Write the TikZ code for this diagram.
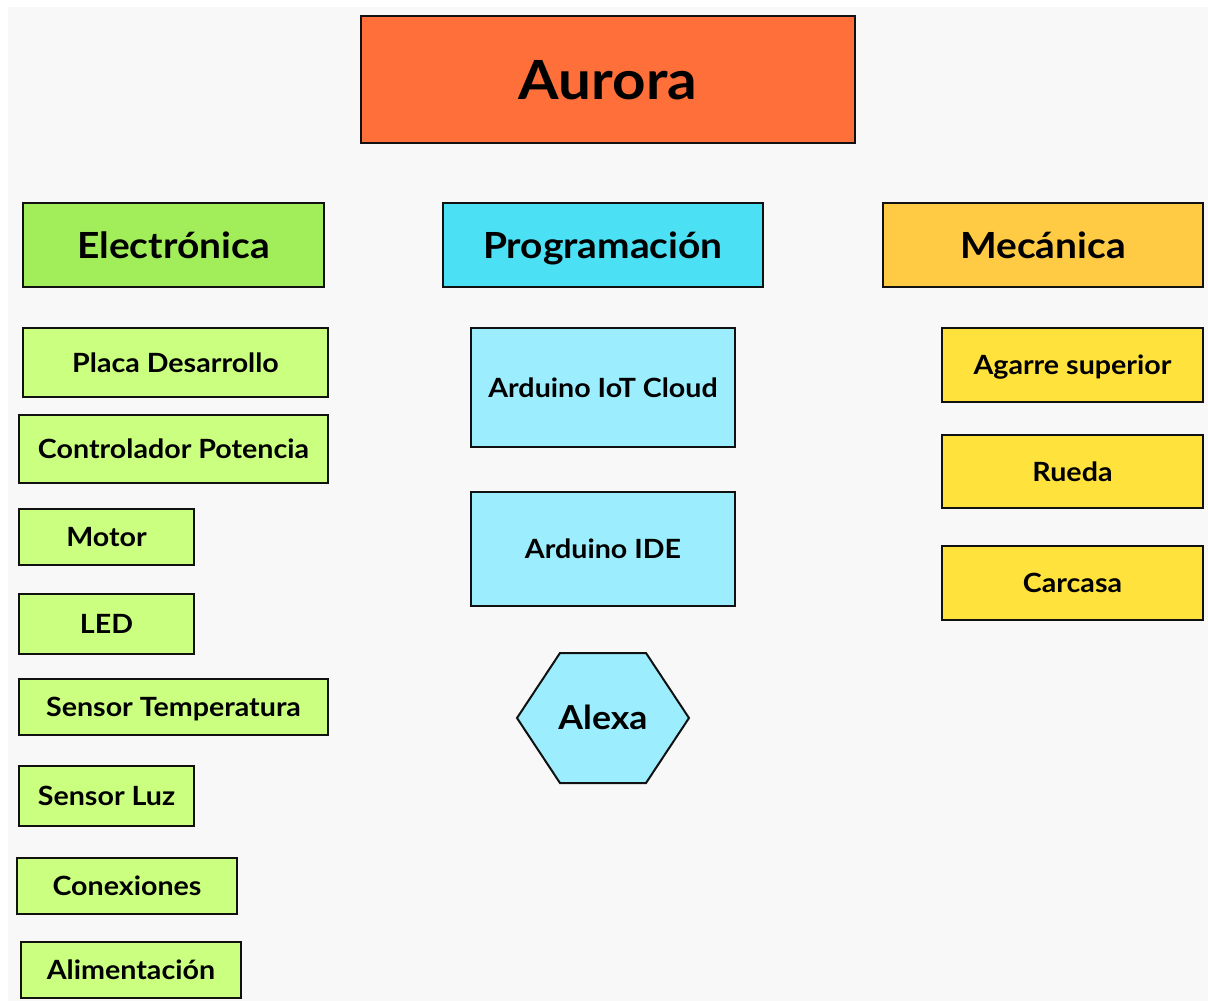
\documentclass[tikz,border=0pt]{standalone}
\usepackage{fontspec}
\setmainfont{Lato}[BoldFeatures={FakeStretch=1.08}]
\definecolor{bgc}{HTML}{F8F8F8}
\definecolor{aurorac}{HTML}{FE6F3A}
\definecolor{elecc}{HTML}{A2EE5A}
\definecolor{progc}{HTML}{4BE0F3}
\definecolor{mecc}{HTML}{FFCB45}
\definecolor{elecl}{HTML}{CBFF80}
\definecolor{progl}{HTML}{9CEEFE}
\definecolor{mecl}{HTML}{FFE23C}
\definecolor{edge}{HTML}{111111}
\tikzset{
  box/.style={draw=edge, line width=2pt, rectangle, inner sep=0pt, align=center, text depth=0pt},
  small/.style={box, text height=19pt, font=\fontsize{26.5}{30}\selectfont\bfseries},
  cat/.style={box, text height=26pt, font=\fontsize{36}{40}\selectfont\bfseries},
}
\begin{document}
\begin{tikzpicture}[x=1pt,y=-1pt]
\useasboundingbox (0,0) rectangle (1208,1001);
\fill[white] (0,0) rectangle (1208,1001);
\fill[bgc] (8,7) rectangle (1208,1001);
% title
\node[box, fill=aurorac, minimum width=494pt, minimum height=127pt, text height=39pt, font=\fontsize{54}{60}\selectfont\bfseries] (aurora) at (608,79.5) {Aurora};
% categories
\node[cat, fill=elecc, minimum width=301pt, minimum height=84pt] (elec) at (173.5,245) {Electrónica};
\node[cat, fill=progc, minimum width=320pt, minimum height=84pt] (prog) at (603,245) {Programación};
\node[cat, fill=mecc, minimum width=320pt, minimum height=84pt] (mec) at (1043,245) {Mecánica};
% electronics
\node[small, fill=elecl, minimum width=305pt, minimum height=69pt] (placa) at (175.5,362.5) {Placa Desarrollo};
\node[small, fill=elecl, minimum width=309pt, minimum height=68pt] (ctrl) at (173.5,449) {Controlador Potencia};
\node[small, fill=elecl, minimum width=175pt, minimum height=56pt] (motor) at (106.5,537) {Motor};
\node[small, fill=elecl, minimum width=175pt, minimum height=60pt] (led) at (106.5,624) {LED};
\node[small, fill=elecl, minimum width=309pt, minimum height=56pt] (stemp) at (173.5,707) {Sensor Temperatura};
\node[small, fill=elecl, minimum width=175pt, minimum height=60pt] (sluz) at (106.5,796) {Sensor Luz};
\node[small, fill=elecl, minimum width=220pt, minimum height=56pt] (conex) at (127,886) {Conexiones};
\node[small, fill=elecl, minimum width=220pt, minimum height=56pt] (alim) at (131,970) {Alimentación};
% programming
\node[small, fill=progl, minimum width=264pt, minimum height=119pt] (iot) at (603,387.5) {Arduino IoT Cloud};
\node[small, fill=progl, minimum width=264pt, minimum height=114pt] (ide) at (603,549) {Arduino IDE};
\coordinate (hexc) at (603,718);
\filldraw[fill=progl, draw=edge, line width=2pt, line join=miter] ([xshift=-86pt]hexc) -- ([xshift=-43pt,yshift=-65pt]hexc) -- ([xshift=43pt,yshift=-65pt]hexc) -- ([xshift=86pt]hexc) -- ([xshift=43pt,yshift=65pt]hexc) -- ([xshift=-43pt,yshift=65pt]hexc) -- cycle;
\node[inner sep=0pt, text height=23.5pt, text depth=0pt, font=\fontsize{33}{36}\selectfont\bfseries] (alexa) at (hexc) {Alexa};
% mechanics
\node[small, fill=mecl, minimum width=261pt, minimum height=74pt] (agarre) at (1072.5,365) {Agarre superior};
\node[small, fill=mecl, minimum width=261pt, minimum height=73pt] (rueda) at (1072.5,471.5) {Rueda};
\node[small, fill=mecl, minimum width=261pt, minimum height=74pt] (carcasa) at (1072.5,583) {Carcasa};
\end{tikzpicture}
\end{document}
